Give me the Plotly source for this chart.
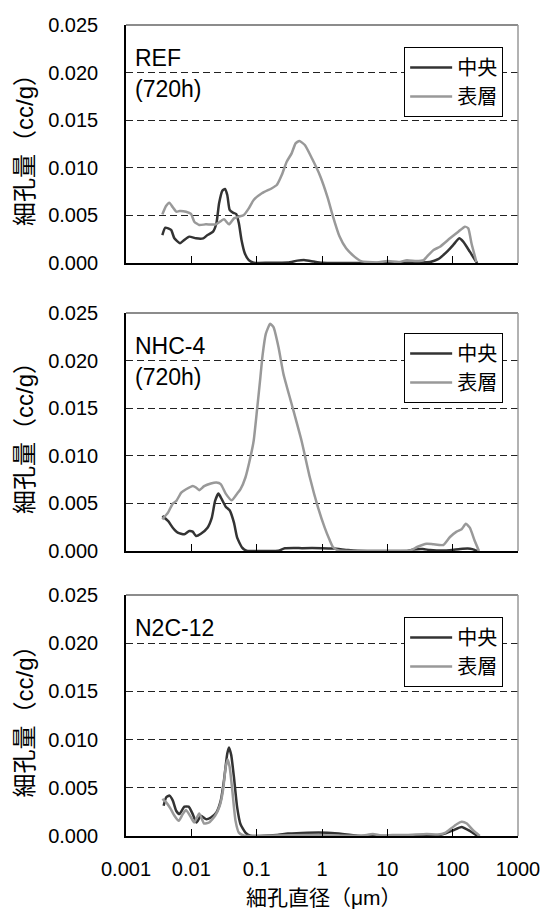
import plotly.graph_objects as go

# ---------------- data ----------------
series_names = ["中央", "表層"]
panel_labels = [["REF", "(720h)"], ["NHC-4", "(720h)"], ["N2C-12"]]
x_tickvals = [0.001, 0.01, 0.1, 1, 10, 100, 1000]
x_ticktext = ["0.001", "0.01", "0.1", "1", "10", "100", "1000"]
y_tickvals = [0.0, 0.005, 0.010, 0.015, 0.020, 0.025]
y_ticktext = ["0.000", "0.005", "0.010", "0.015", "0.020", "0.025"]

# Panel 1: REF (720h)
ref_center_d = [0.0036, 0.0040, 0.0049, 0.0055, 0.0067, 0.0078, 0.0093, 0.0118, 0.0152, 0.0177,
                0.0215, 0.0242, 0.0266, 0.0298, 0.0327, 0.0355, 0.0386, 0.0433, 0.0486, 0.0534,
                0.0586, 0.0658, 0.0757, 0.090, 0.15, 0.30, 0.42, 0.55, 0.75, 1.0, 3, 10, 30, 45,
                60, 72, 85, 102, 126, 145, 183, 231, 240]
ref_center_v = [0.00294, 0.00371, 0.00347, 0.00259, 0.00207, 0.00242, 0.00277, 0.00259, 0.00259, 0.00294,
                0.00329, 0.00417, 0.00627, 0.00760, 0.00777, 0.00714, 0.00557, 0.00529, 0.00515, 0.00417,
                0.00242, 0.00102, 0.0003, 0.00003, 0.00002, 0.00005, 0.00025, 0.0003, 0.00015, 0.00003, 0, 0, 0.00005, 0.0001,
                0.0004, 0.00084, 0.0013, 0.00189, 0.00259, 0.00224, 0.00119, 0.0001, 0]
ref_surface_d = [0.0036, 0.0041, 0.0046, 0.0052, 0.0059, 0.0066, 0.0083, 0.0099, 0.0111, 0.0132,
                 0.0167, 0.0237, 0.0316, 0.0377, 0.0449, 0.0534, 0.0635, 0.0757, 0.090, 0.120,
                 0.171, 0.203, 0.242, 0.288, 0.343, 0.394, 0.45, 0.546, 0.70, 0.93, 1.23, 1.47,
                 1.85, 2.34, 3.13, 3.95, 5.0, 7, 10, 15, 20, 28, 36, 40.4, 51, 64, 91, 122, 154,
                 173, 194, 231]
ref_surface_v = [0.00511, 0.00599, 0.00634, 0.00585, 0.00539, 0.00546, 0.00539, 0.00515, 0.00434, 0.00399,
                 0.00406, 0.00406, 0.00459, 0.00406, 0.00469, 0.00487, 0.00504, 0.00574, 0.00662, 0.00732,
                 0.00785, 0.00819, 0.00924, 0.01064, 0.01152, 0.01257, 0.01282, 0.01239, 0.0110, 0.0092, 0.0068, 0.0049,
                 0.0028, 0.00154, 0.00067, 0.0002, 0.0001, 0.00005, 0.0002, 0.0001, 0.0003, 0.0002, 0.0003, 0.00067, 0.00137, 0.00171, 0.00259, 0.00329, 0.00382,
                 0.00364, 0.00207, 0.0001]

# Panel 2: NHC-4 (720h)
nhc_center_d = [0.0036, 0.0044, 0.0052, 0.0062, 0.0078, 0.0093, 0.0105, 0.0118, 0.014, 0.0177,
                0.0206, 0.0231, 0.026, 0.0292, 0.0336, 0.0386, 0.0449, 0.0503, 0.060, 0.070,
                0.15, 0.215, 0.27, 0.5, 1.0, 1.5, 2.5, 3.5, 10, 20, 25, 35, 45, 80, 130, 170, 200, 240]
nhc_center_v = [0.00368, 0.00316, 0.00245, 0.00193, 0.00175, 0.0021, 0.00203, 0.00158, 0.00182, 0.00245,
                0.00351, 0.00526, 0.00603, 0.00544, 0.00466, 0.00428, 0.00298, 0.0014, 0.00035, 0.00003,
                0, 0.00003, 0.00028, 0.0003, 0.0003, 0.00025, 0.0001, 0.00003, 0, 0, 0.00015, 0.0002, 0.0001, 0.00005, 0.0002, 0.00025, 0.0002, 0]
nhc_surface_d = [0.0036, 0.0044, 0.0052, 0.0059, 0.0070, 0.0083, 0.0105, 0.0118, 0.0132, 0.0157,
                 0.0199, 0.0242, 0.0282, 0.0336, 0.0413, 0.0486, 0.0566, 0.0673, 0.080, 0.090,
                 0.101, 0.114, 0.123, 0.138, 0.161, 0.181, 0.216, 0.257, 0.343, 0.486, 0.652, 0.87,
                 1.10, 1.30, 1.47, 1.8, 5, 10, 22.5, 28.5, 40, 51, 72, 91, 115, 137, 159, 183, 218, 253]
nhc_surface_v = [0.00333, 0.00403, 0.00498, 0.00526, 0.00614, 0.00649, 0.00684, 0.00667, 0.00639, 0.00681,
                 0.00709, 0.00719, 0.00702, 0.00603, 0.00533, 0.00589, 0.00649, 0.00772, 0.00982, 0.01158,
                 0.01474, 0.01825, 0.02053, 0.02281, 0.02386, 0.02351, 0.0214, 0.0186, 0.01544, 0.01158, 0.00772, 0.00456,
                 0.00245, 0.00120, 0.00042, 0.00005, 0, 0, 0.00005, 0.00042, 0.00077, 0.0007, 0.00063, 0.00147, 0.00203, 0.00228, 0.00287, 0.00245, 0.00105, 0]

# Panel 3: N2C-12
n2c_center_d = [0.00377, 0.00413, 0.00464, 0.00521, 0.00586, 0.00658, 0.00783, 0.0091, 0.0105, 0.012,
                0.014, 0.0167, 0.0199, 0.0242, 0.0282, 0.0316, 0.0355, 0.0377, 0.0408, 0.0449,
                0.0503, 0.0566, 0.0673, 0.08, 0.2, 0.3, 0.6, 1.2, 1.8, 3.5, 10, 30, 63, 80, 102, 137, 183, 240]
n2c_center_v = [0.00314, 0.00402, 0.00419, 0.00367, 0.00262, 0.00227, 0.00304, 0.00304, 0.00227, 0.0014,
                0.0021, 0.00175, 0.00192, 0.00245, 0.00367, 0.00577, 0.00856, 0.00919, 0.00839, 0.00611,
                0.00297, 0.00122, 0.00035, 0.00003, 0.0001, 0.00025, 0.00035, 0.00035, 0.00025, 0.00003, 0, 0.00003, 0.0001, 0.0003, 0.0006, 0.00094, 0.00052, 0]
n2c_surface_d = [0.0036, 0.00413, 0.00475, 0.00552, 0.00643, 0.00738, 0.0083, 0.00989, 0.0111, 0.0132,
                 0.0157, 0.0187, 0.0231, 0.0272, 0.0305, 0.0336, 0.036, 0.0386, 0.0424, 0.0475,
                 0.0534, 0.065, 0.2, 0.6, 1.5, 4, 6, 8, 12, 20, 40, 60, 75, 91, 115, 137, 165, 205, 260]
n2c_surface_v = [0.00385, 0.00349, 0.0029, 0.0021, 0.00157, 0.00227, 0.00269, 0.00192, 0.0014, 0.00234,
                 0.00129, 0.0014, 0.0021, 0.00314, 0.00472, 0.00716, 0.00793, 0.00716, 0.00472, 0.00157,
                 0.00035, 0.00003, 0.00005, 0.0001, 0.00005, 0.00003, 0.0002, 0.00005, 0.0001, 0.0001, 0.0002, 0.00015, 0.0003, 0.0007, 0.00122, 0.00147, 0.00129, 0.0006, 0]

panels = [
    (ref_center_d, ref_center_v, ref_surface_d, ref_surface_v),
    (nhc_center_d, nhc_center_v, nhc_surface_d, nhc_surface_v),
    (n2c_center_d, n2c_center_v, n2c_surface_d, n2c_surface_v),
]

# ---------------- styling ----------------
FONT = "Liberation Sans, Arial, Noto Sans CJK JP, sans-serif"
DARK = "#333333"
LIGHT = "#999999"
W, H = 552, 909
ML, MR, MT, MB = 126, 30, 25, 73
PW = W - ML - MR
PH = H - MT - MB
# panel pixel extents (top, bottom)
panel_px = [(25, 263), (313, 551), (595, 836)]


def py(p):
    return (H - MB - p) / PH


def px(p):
    return (p - ML) / PW


fig = go.Figure()
legend_names = ["legend", "legend2", "legend3"]
for i, (cd, cv, sd, sv) in enumerate(panels):
    xa = "x" if i == 0 else f"x{i+1}"
    ya = "y" if i == 0 else f"y{i+1}"
    for d, v, col, name in [(cd, cv, DARK, series_names[0]), (sd, sv, LIGHT, series_names[1])]:
        fig.add_trace(go.Scatter(
            x=d, y=v, mode="lines", name=name, xaxis=xa, yaxis=ya,
            line=dict(color=col, width=2.5, shape="spline", smoothing=0.5),
            legend=legend_names[i], hoverinfo="skip"))

layout = dict(
    width=W, height=H, margin=dict(l=ML, r=MR, t=MT, b=MB),
    paper_bgcolor="white", plot_bgcolor="white",
    font=dict(family=FONT, size=20, color="black"),
    showlegend=True,
)

annotations = []
shapes = []
for i in range(3):
    top, bot = panel_px[i]
    sfx = "" if i == 0 else str(i + 1)
    layout["xaxis" + sfx] = dict(
        type="log", range=[-3, 3], domain=[0, 1], anchor="y" + sfx,
        tickvals=x_tickvals, ticktext=x_ticktext,
        showticklabels=(i == 2), ticks="inside", ticklen=7, tickwidth=1, tickcolor="black",
        showline=True, linecolor="black", linewidth=1.5, showgrid=False, zeroline=False,
        tickfont=dict(size=20), ticklabelstandoff=14,
    )
    layout["yaxis" + sfx] = dict(
        range=[0, 0.025], domain=[py(bot), py(top)], anchor="x" + sfx,
        tickvals=y_tickvals, ticktext=y_ticktext, ticks="",
        showline=True, linecolor="black", linewidth=1.5,
        showgrid=True, gridcolor="#222222", gridwidth=1, griddash="7px,4px",
        zeroline=False, tickfont=dict(size=20), ticklabelstandoff=22,
    )
    # top and right frame lines
    shapes.append(dict(type="line", xref=f"x{sfx} domain", yref=f"y{sfx} domain",
                       x0=0, x1=1, y0=1, y1=1, line=dict(color="#666666", width=1.5)))
    shapes.append(dict(type="line", xref=f"x{sfx} domain", yref=f"y{sfx} domain",
                       x0=1, x1=1, y0=0, y1=1, line=dict(color="#999999", width=1.5)))
    # y title
    annotations.append(dict(text="細孔量（cc/g）", xref="paper", yref="paper",
                            x=px(23), y=py((top + bot) / 2), xanchor="center", yanchor="middle",
                            textangle=-90, showarrow=False, font=dict(size=24)))
    # panel labels
    for j, lab in enumerate(panel_labels[i]):
        annotations.append(dict(text=lab, xref="paper", yref="paper",
                                x=px(133), y=py(top + 33 + 31 * j), xanchor="left", yanchor="middle",
                                showarrow=False, font=dict(size=23)))
    # legend
    leg_top = [47, 333, 617][i]
    layout[legend_names[i]] = dict(
        x=px(507), y=py(leg_top), xanchor="right", yanchor="top",
        bgcolor="white", bordercolor="black", borderwidth=1,
        font=dict(size=20), tracegroupgap=0, itemwidth=42,
    )

annotations.append(dict(text="細孔直径（μm）", xref="paper", yref="paper",
                        x=px(326), y=py(897), xanchor="center", yanchor="middle",
                        showarrow=False, font=dict(size=21)))

layout["annotations"] = annotations
layout["shapes"] = shapes
fig.update_layout(**layout)
fig.write_html("out.html", config={"displayModeBar": False},
               post_script="document.body.style.margin='0';document.body.style.overflow='hidden';")
